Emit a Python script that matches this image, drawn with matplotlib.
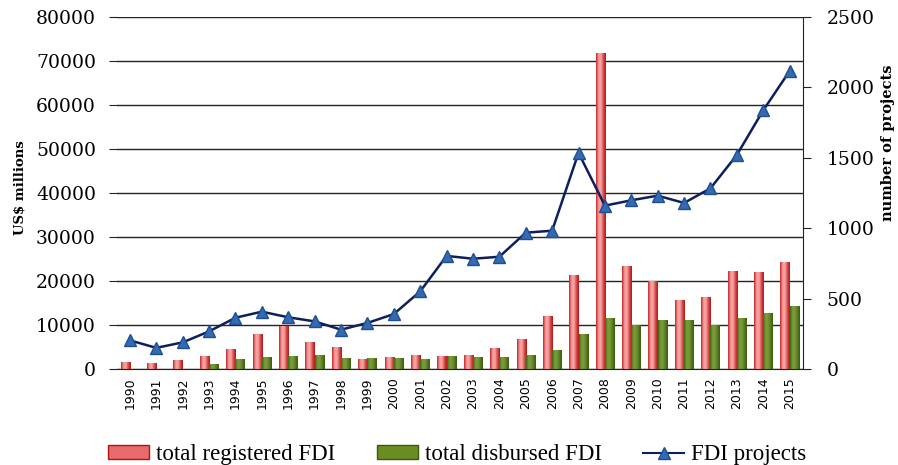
import numpy as np
import matplotlib.pyplot as plt
from matplotlib.colors import LinearSegmentedColormap
from matplotlib.lines import Line2D
from matplotlib.patches import Patch

years = [str(y) for y in range(1990, 2016)]
registered = [1400, 1200, 1900, 2850, 4400, 7900, 9600, 6000, 4800, 2200, 2650, 3100,
              2850, 3100, 4550, 6700, 12000, 21300, 71700, 23200, 19900, 15500, 16200,
              22200, 21950, 24100]
disbursed = [0, 0, 0, 1000, 2200, 2650, 2850, 3100, 2400, 2400, 2400, 2200,
             2850, 2650, 2650, 3100, 4100, 7900, 11400, 9900, 11000, 11000, 9900,
             11400, 12500, 14300]
projects = [203, 150, 189, 267, 364, 407, 367, 338, 279, 327, 390, 551,
            803, 783, 797, 968, 982, 1535, 1160, 1198, 1231, 1179, 1283, 1520,
            1837, 2116]

fig = plt.figure(figsize=(8.98, 4.65), dpi=100)
ax = fig.add_axes([0.130, 0.2065, 0.764, 0.757])
ax2 = ax.twinx()

x = np.arange(len(years))
w = 0.35
b1 = ax.bar(x - w / 2, registered, w, color='#e86a6a', edgecolor='none')
b2 = ax.bar(x + w / 2, disbursed, w, color='#6b8e23', edgecolor='none')

# horizontal gradient inside each bar
red_cm = LinearSegmentedColormap.from_list('r', ['#c01f1f', '#f49a9a', '#f7a8a8', '#d84a4a', '#b01515'])
green_cm = LinearSegmentedColormap.from_list('g', ['#3f5f10', '#7a9e3a', '#76983a', '#5a7d22', '#3a5a0c'])
grad = np.linspace(0, 1, 64).reshape(1, -1)
for bars, cm in [(b1, red_cm), (b2, green_cm)]:
    for r in bars:
        bx, by = r.get_x(), r.get_y()
        bw, bh = r.get_width(), r.get_height()
        if bh <= 0:
            continue
        ax.imshow(grad, cmap=cm, aspect='auto', extent=(bx, bx + bw, by, by + bh),
                  zorder=2, interpolation='bicubic')
        r.set_visible(False)

ax.set_xlim(-0.5, len(years) - 0.5)
ax.set_ylim(0, 80000)
ax.set_yticks(np.arange(0, 80001, 10000))
ax.yaxis.grid(True, color='#222222', linewidth=1.0)
ax.set_axisbelow(True)
ax.set_xticks(x)
ax.set_xticklabels(years, rotation=90, fontsize=9, family='DejaVu Sans')
ax.tick_params(axis='x', length=0, pad=6)
ax.tick_params(axis='y', length=6, color='#222222', labelsize=13.5, pad=9)
for t in ax.get_yticklabels():
    t.set_family('DejaVu Serif')
for s in ['top', 'left', 'right']:
    ax.spines[s].set_visible(False)
ax.spines['bottom'].set_color('#222222')
ax.set_ylabel('US$ millions', family='DejaVu Serif', fontweight='bold', fontsize=9.5)
ax.yaxis.set_label_coords(-0.131, 0.514)

ax2.plot(x, projects, color='#0d1f5c', linewidth=1.8, marker='^', markersize=9,
         markerfacecolor='#3569b0', markeredgecolor='#1d4f95', zorder=5)
ax2.set_ylim(0, 2500)
ax2.set_yticks(np.arange(0, 2501, 500))
ax2.tick_params(axis='y', length=6, color='#222222', labelsize=13.5, pad=11)
for t in ax2.get_yticklabels():
    t.set_family('DejaVu Serif')
for s in ['top', 'left', 'bottom']:
    ax2.spines[s].set_visible(False)
ax2.spines['right'].set_color('#222222')
ax2.set_ylabel('number of projects', family='DejaVu Serif', fontweight='bold', fontsize=10.5)
ax2.yaxis.set_label_coords(1.1137, 0.642)

handles = [Patch(facecolor='#e86a6a', edgecolor='#b01515'),
           Patch(facecolor='#6b8e23', edgecolor='#3a5a0c'),
           Line2D([], [], color='#0d1f5c', marker='^', markersize=8,
                  markerfacecolor='#3569b0', markeredgecolor='#1d4f95')]
fig.legend(handles, ['total registered FDI', 'total disbursed FDI', 'FDI projects'],
           loc='center', bbox_to_anchor=(0.509, 0.022), ncol=3, frameon=False,
           prop={'family': 'Liberation Serif', 'size': 16.5}, handlelength=1.8,
           handleheight=0.6, handletextpad=0.3, columnspacing=1.8)

fig.savefig('out.png', dpi=100)
